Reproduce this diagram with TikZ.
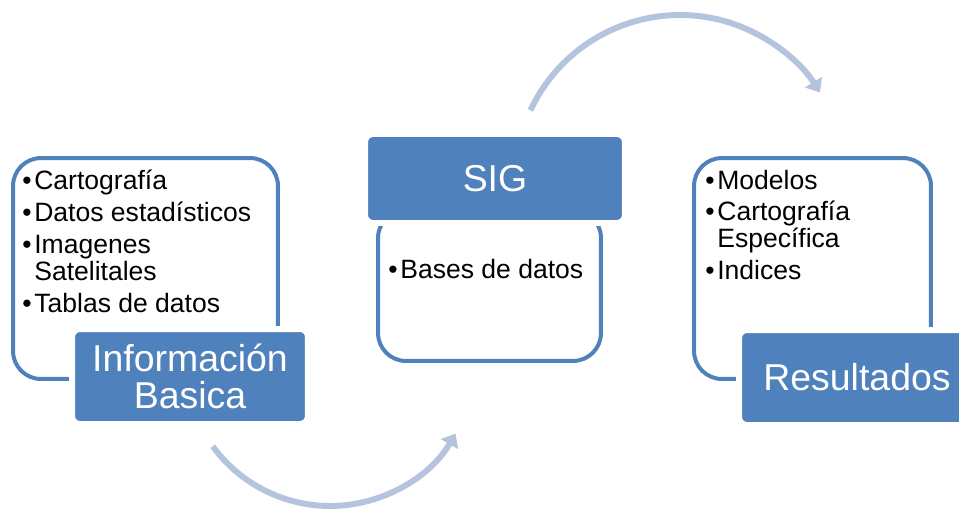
\documentclass[tikz,border=0pt]{standalone}
\usepackage{fontspec}
\setmainfont{Liberation Sans}
\usetikzlibrary{arrows.meta}
\definecolor{accentblue}{RGB}{79,129,189}
\definecolor{arrowblue}{RGB}{180,196,222}
\tikzset{outlinebox/.style = {draw = accentblue, line width = 2.27pt, rounded corners = 0.56cm},
  labelbox/.style = {fill = accentblue, draw = white, line width = 3.4pt, rounded corners = 4.5pt,
    text = white, align = center, font = \fontsize{21.3pt}{21pt}\selectfont},
  listtext/.style = {anchor = north west, inner sep = 0, align = left,
    font = \fontsize{15.1pt}{15.3pt}\selectfont},
  cyclearrow/.style = {draw = arrowblue, line width = 3.4pt, -{Triangle[length = 7pt, width = 11pt]}}}
\newcommand{\bul}{\makebox[0.24cm][l]{\textbullet}}
\newcommand{\hng}{\hspace*{0.24cm}}

\begin{document}
\begin{tikzpicture}[x = 0.02cm, y = 0.02cm]
          \clip (0, 0) rectangle (959, 508);

          % outlined boxes
          \node [outlinebox, minimum width = 5.3cm, minimum height = 4.42cm] (infobox) at (145.5, 239.5) {};
          \node [outlinebox, minimum width = 4.46cm, minimum height = 3.02cm] (sigbox) at (489.5, 222.5) {};
          \node [outlinebox, minimum width = 4.74cm, minimum height = 4.42cm] (resbox) at (812.5, 239.5) {};

          % filled labels
          \node [labelbox, minimum width = 4.72cm, minimum height = 1.9cm] (infolabel) at (190, 131.5) {Información\\Basica};
          \node [labelbox, minimum width = 5.2cm, minimum height = 1.78cm] (siglabel) at (495, 329.5) {SIG};
          \node [labelbox, minimum width = 4.72cm, minimum height = 1.9cm] (reslabel) at (857, 130.5) {Resultados};

          % lists
          \node [listtext] (infolist) at (22, 338) {\bul Cartografía\\[2.8pt]
            \bul Datos estadísticos\\[2.8pt]
            \bul Imagenes\\\hng Satelitales\\[2.8pt]
            \bul Tablas de datos};
          \node [listtext] (siglist) at (388, 249.5) {\bul Bases de datos};
          \node [listtext] (reslist) at (705, 338.5) {\bul Modelos\\[2.8pt]
            \bul Cartografía\\\hng Específica\\[2.8pt]
            \bul Indices};

          % arrows
          \coordinate (toparc) at (530.5, 397.7);
          \coordinate (lowarc) at (212.7, 61.8);
          \draw [cyclearrow] (toparc) arc [start angle = 155, end angle = 32, radius = 165];
          \draw [cyclearrow] (lowarc) arc [start angle = 216, end angle = 330, radius = 145];
        \end{tikzpicture}
\end{document}
